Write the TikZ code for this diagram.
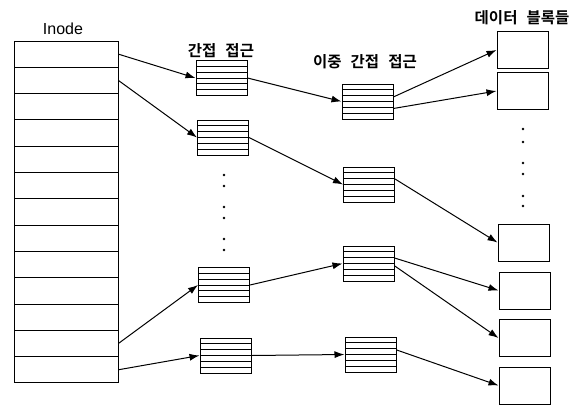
\documentclass[tikz,border=0pt]{standalone}
\usepackage{fontspec}
\setmainfont{Liberation Sans}
\newfontfamily\kor{Noto Sans CJK KR}[BoldFont={* Bold}]
\usepackage{tikz}
\usetikzlibrary{calc,arrows.meta}

\tikzset{
    inoderow/.style={draw, line width=0.9pt, minimum width=104pt, minimum height=26.3pt, inner sep=0pt},
    ptrblk/.style={draw, line width=1pt, minimum width=51pt, minimum height=35pt, inner sep=0pt,
        path picture={\foreach \k in {1,...,5}
            \draw[line width=0.8pt] ($(path picture bounding box.north west)!\k/6!(path picture bounding box.south west)$)
                -- ($(path picture bounding box.north east)!\k/6!(path picture bounding box.south east)$);}},
    datablk/.style={draw, line width=1pt, minimum width=51pt, minimum height=37pt, inner sep=0pt},
    ptr/.style={line width=1pt, -{Latex[length=10pt,width=7pt]}},
    hdr/.style={font=\kor\bfseries\fontsize{15.5}{17}\selectfont, inner sep=0pt}
}

\begin{document}
\begin{tikzpicture}[x=1pt,y=-1pt]
    \useasboundingbox (0,0) rectangle (585,405);

    % inode table
    \node[font=\fontsize{16}{18}\selectfont, inner sep=0pt] (inode) at (63,29) {Inode};
    \foreach \i in {1,...,13}
        \node[inoderow] (r\i) at (66,{41+26.3*(\i-0.5)}) {};

    % single indirect blocks
    \node[hdr] (lblind) at (221,51) {간접\hspace{9pt}접근};
    \node[ptrblk] (ind1) at (221.5,78) {};
    \node[ptrblk] (ind2) at (223,137.5) {};
    \node[ptrblk] (ind3) at (224,285) {};
    \node[ptrblk] (ind4) at (225.5,355.5) {};

    % double indirect blocks
    \node[hdr] (lbldind) at (365,62) {이중\hspace{9pt}간접\hspace{9pt}접근};
    \node[ptrblk] (dind1) at (367.5,101.5) {};
    \node[ptrblk] (dind2) at (369,184.5) {};
    \node[ptrblk] (dind3) at (368.5,263.5) {};
    \node[ptrblk] (dind4) at (370.5,354.5) {};

    % data blocks
    \node[hdr] (lbldata) at (522,18) {데이터\hspace{9pt}블록들};
    \node[datablk] (data1) at (522.5,50) {};
    \node[datablk] (data2) at (522.5,91) {};
    \node[datablk] (data3) at (523.5,242.5) {};
    \node[datablk] (data4) at (524.5,290.5) {};
    \node[datablk] (data5) at (524.5,338) {};
    \node[datablk] (data6) at (524.5,385.5) {};

    \foreach \y in {175,186,207,218,239,250}
        \fill (224,\y) circle (1.4pt);
    \foreach \y in {129,142,163,174,196,206}
        \fill (523,\y) circle (1.4pt);

    % pointers
    \draw[ptr] (r1.east) -- (ind1.west);
    \draw[ptr] (r2.east) -- (ind2.west);
    \draw[ptr] (r12.east) -- (ind3.west);
    \draw[ptr] (r13.east) -- (ind4.west);

    \draw[ptr] (ind1.east) -- (dind1.west);
    \draw[ptr] (ind2.east) -- (dind2.west);
    \draw[ptr] (ind3.east) -- (dind3.west);
    \draw[ptr] (ind4.east) -- (dind4.west);

    \draw[ptr] (dind1.10) -- (data1.west);
    \draw[ptr] (dind1.-15) -- (data2.west);
    \draw[ptr] (dind2.12) -- (data3.west);
    \draw[ptr] (dind3.12) -- (data4.west);
    \draw[ptr] (dind3.-5) -- (data5.west);
    \draw[ptr] (dind4.10) -- (data6.west);
\end{tikzpicture}
\end{document}
